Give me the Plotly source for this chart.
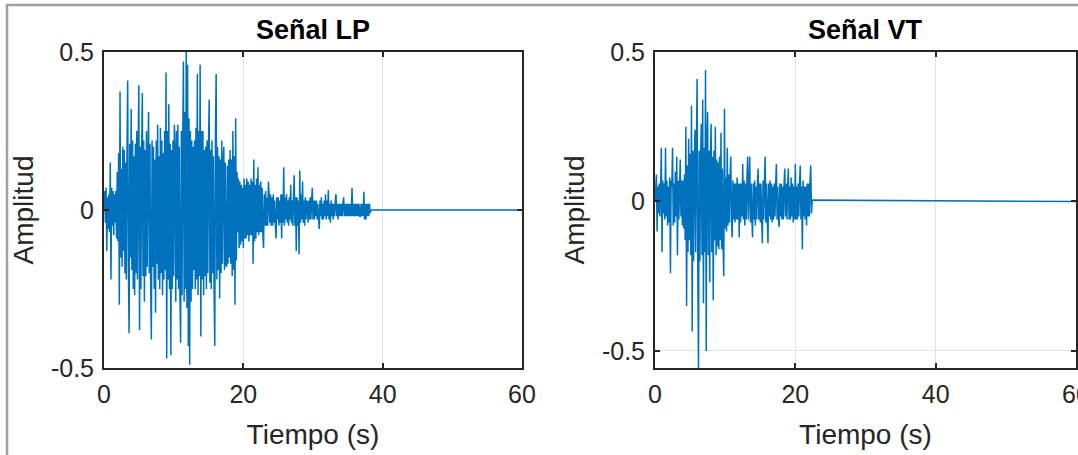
import numpy as np
import plotly.graph_objects as go

# ---------------- data ----------------
dt = 0.1                 # sampling interval of the hand-read traces (s)
record_length = 60.0     # length of each record (s); signal is 0 after the event

x_ticks = [0, 20, 40, 60]
x_tick_text = ["0", "20", "40", "60"]
y_ticks = [-0.5, 0, 0.5]
y_tick_text = ["-0.5", "0", "0.5"]

titles = ["Señal LP", "Señal VT"]
x_label = "Tiempo (s)"
y_label = "Amplitud"

# Señal LP, samples every dt from t = 0
lp_amp = [
    0.00, 0.06, -0.04, 0.07, -0.13, 0.04, -0.06, 0.05, -0.07, 0.15,
    -0.22, 0.07, -0.05, 0.06, -0.08, 0.05, -0.04, 0.06, -0.09, 0.12,
    -0.10, 0.18, -0.30, 0.375, -0.15, 0.13, -0.18, 0.20, -0.13, 0.19,
    -0.20, 0.15, -0.22, 0.19, 0.41, -0.18, -0.39, 0.21, -0.15, 0.32,
    -0.19, 0.22, -0.25, 0.17, -0.27, 0.21, -0.20, 0.25, -0.22, 0.18,
    0.395, -0.38, 0.20, -0.25, 0.17, 0.37, -0.21, 0.22, -0.29, 0.19,
    -0.21, 0.25, -0.18, 0.16, 0.31, -0.20, 0.21, -0.25, -0.41, 0.22,
    -0.18, 0.20, -0.25, 0.16, -0.325, 0.22, -0.17, 0.27, -0.22, 0.17,
    -0.25, 0.26, -0.20, 0.22, -0.27, 0.18, -0.22, 0.25, -0.19, 0.435,
    -0.47, 0.25, -0.22, 0.335, -0.25, 0.21, -0.46, 0.19, -0.25, 0.22,
    -0.21, 0.27, 0.18, -0.29, 0.25, -0.22, 0.27, -0.25, 0.20, -0.27,
    -0.42, 0.25, -0.27, 0.22, 0.47, -0.29, 0.31, -0.25, 0.50, -0.31,
    0.46, -0.43, 0.29, -0.49, 0.25, -0.29, 0.22, -0.25, 0.20, -0.19,
    0.22, -0.25, 0.26, -0.22, 0.43, -0.27, 0.25, -0.21, 0.46, -0.40,
    0.25, -0.22, 0.25, -0.27, 0.19, -0.21, 0.20, -0.25, 0.22, -0.20,
    0.21, 0.35, -0.23, 0.19, -0.25, 0.22, -0.20, 0.17, -0.25, -0.43,
    0.25, 0.43, -0.22, 0.20, -0.19, 0.17, -0.28, 0.16, -0.20, 0.22,
    -0.17, 0.16, 0.20, -0.19, 0.15, -0.17, -0.18, 0.14, -0.17, 0.16,
    -0.15, 0.19, -0.17, 0.16, -0.21, 0.25, -0.19, 0.17, -0.30, 0.29,
    -0.16, 0.12, -0.07, 0.10, -0.12, 0.09, -0.11, 0.08, -0.10, 0.07,
    -0.12, 0.10, -0.09, 0.08, -0.09, 0.10, -0.08, 0.09, -0.10, 0.08,
    -0.08, 0.10, -0.08, 0.09, -0.17, 0.16, -0.10, 0.08, -0.09, 0.10,
    -0.07, 0.135, -0.08, 0.08, -0.07, 0.09, -0.07, 0.07, -0.08, -0.12,
    0.05, -0.05, 0.06, -0.05, 0.04, -0.05, 0.09, 0.05, -0.04, 0.05,
    -0.05, 0.04, -0.05, 0.05, -0.04, 0.03, -0.05, -0.09, 0.04, -0.03,
    0.04, -0.05, 0.03, -0.04, 0.05, -0.09, 0.05, -0.04, 0.135, -0.05,
    0.04, -0.03, 0.05, -0.04, 0.03, -0.05, 0.04, -0.03, 0.08, -0.04,
    0.03, -0.05, 0.04, 0.11, -0.05, 0.04, -0.13, 0.04, -0.05, 0.03,
    -0.14, 0.125, -0.04, 0.05, -0.03, 0.09, -0.04, 0.03, -0.05, 0.04,
    -0.03, 0.03, 0.02, -0.04, 0.03, -0.03, 0.04, -0.03, 0.03, 0.07,
    -0.03, 0.03, -0.03, 0.03, -0.02, 0.03, -0.03, 0.02, -0.03, -0.06,
    0.03, -0.02, 0.04, -0.03, 0.02, -0.03, 0.03, -0.02, 0.05, -0.03,
    0.03, -0.02, 0.063, -0.03, 0.02, -0.04, 0.03, -0.02, 0.02, -0.03,
    0.02, -0.02, 0.03, 0.05, -0.02, 0.02, -0.03, 0.02, -0.02, 0.02,
    -0.02, 0.02, -0.02, 0.02, 0.04, -0.02, 0.02, -0.02, 0.02, -0.02,
    0.02, -0.02, 0.02, -0.02, 0.02, -0.02, 0.07, -0.02, 0.02, -0.02,
    0.02, -0.02, 0.02, -0.02, 0.02, -0.02, 0.02, -0.02, -0.02, 0.02,
    -0.02, 0.02, -0.02, 0.058, -0.03, 0.02, -0.03, 0.02, -0.02, 0.02,
    -0.02, 0.02, -0.01, 0.00,
]

# Señal VT, samples every dt from t = 0
vt_amp = [
    0.00, 0.04, 0.09, -0.10, 0.05, -0.04, 0.06, -0.05, 0.04, 0.18,
    -0.17, 0.07, -0.04, 0.06, -0.06, 0.18, -0.05, 0.07, -0.08, 0.05,
    -0.07, 0.08, -0.24, 0.07, 0.05, 0.18, -0.08, 0.06, -0.07, 0.10,
    -0.05, 0.15, -0.18, 0.07, -0.06, 0.05, 0.14, -0.05, 0.07, -0.08,
    0.07, -0.09, 0.09, -0.13, 0.25, -0.35, 0.12, -0.17, 0.21, -0.13,
    0.16, -0.18, 0.32, -0.435, 0.17, -0.20, 0.13, 0.24, -0.17, 0.18,
    0.41, -0.23, -0.57, 0.17, -0.20, 0.15, 0.26, -0.18, 0.34, -0.34,
    0.18, -0.17, 0.44, -0.50, 0.20, 0.30, -0.18, 0.17, -0.27, 0.15,
    0.26, -0.17, 0.15, -0.33, 0.17, -0.13, 0.25, -0.18, 0.14, -0.15,
    0.13, -0.16, 0.15, -0.13, 0.23, -0.16, 0.11, -0.13, -0.25, 0.31,
    -0.09, 0.08, -0.10, 0.18, -0.08, 0.09, -0.07, 0.08, 0.15, -0.06,
    -0.12, 0.07, -0.06, 0.06, -0.07, 0.06, -0.06, 0.08, -0.06, 0.06,
    -0.12, 0.06, -0.07, 0.06, -0.05, 0.125, -0.06, 0.07, -0.08, 0.06,
    -0.06, 0.07, 0.15, -0.06, 0.06, 0.15, -0.07, 0.06, -0.05, -0.12,
    0.06, -0.06, 0.07, -0.08, 0.05, -0.06, 0.06, 0.11, -0.06, 0.06,
    -0.07, 0.06, -0.06, -0.14, 0.07, -0.06, 0.06, 0.15, -0.07, 0.06,
    -0.06, -0.14, 0.06, -0.05, 0.07, -0.06, 0.06, -0.07, 0.05, -0.06,
    0.06, -0.05, 0.06, 0.125, -0.06, 0.05, -0.06, -0.085, 0.06, -0.05,
    0.06, -0.06, 0.05, -0.06, 0.06, 0.11, -0.05, 0.06, -0.06, 0.05,
    0.11, -0.06, 0.05, -0.06, 0.08, -0.05, 0.06, -0.07, 0.05, -0.06,
    0.125, -0.06, 0.05, -0.06, 0.06, -0.05, 0.06, 0.12, -0.06, 0.05,
    -0.16, 0.07, -0.05, 0.05, -0.06, 0.05, -0.08, 0.06, -0.05, 0.06,
    -0.05, 0.07, 0.12, -0.04, 0.00, 0.005,
]

y_ranges = [[-0.5, 0.5], [-0.557, 0.5]]

# ---------------- figure ----------------
W, H = 1078, 455
LINE_COLOR = "#0072BD"
AX_COLOR = "#262626"
GRID_COLOR = "#e3e3e3"
FONT = "Liberation Sans, Arial, Helvetica, sans-serif"


def series(amp):
    t = np.arange(len(amp)) * dt
    return np.append(t, record_length), np.append(np.array(amp, dtype=float), 0.0)


fig = go.Figure()
for i, amp in enumerate([lp_amp, vt_amp]):
    tx, ty = series(amp)
    sfx = "" if i == 0 else "2"
    fig.add_trace(go.Scatter(
        x=tx, y=ty, mode="lines",
        line=dict(color=LINE_COLOR, width=1.5, simplify=False),
        xaxis="x" + sfx, yaxis="y" + sfx, showlegend=False, hoverinfo="skip",
    ))

x_domains = [[104 / W, 522 / W], [655 / W, 1076 / W]]
y_domain = [1 - 368 / H, 1 - 52 / H]

common = dict(
    showline=True, linecolor=AX_COLOR, linewidth=2, mirror="allticks",
    ticks="inside", ticklen=5, tickwidth=1.5, tickcolor=AX_COLOR,
    showgrid=True, gridcolor=GRID_COLOR, gridwidth=1, zeroline=False,
    tickfont=dict(family=FONT, size=25, color=AX_COLOR), automargin=False,
    ticklabeloverflow="allow",
)

layout = dict(
    width=W, height=H,
    margin=dict(l=0, r=0, t=0, b=0, autoexpand=False),
    paper_bgcolor="white", plot_bgcolor="white",
    font=dict(family=FONT, color=AX_COLOR),
    annotations=[], shapes=[],
)

for i in range(2):
    sfx = "" if i == 0 else "2"
    layout["xaxis" + sfx] = dict(
        common, domain=x_domains[i], range=[0, record_length],
        tickvals=x_ticks, ticktext=x_tick_text, anchor="y" + sfx,
        title=dict(text=x_label, font=dict(family=FONT, size=28, color=AX_COLOR), standoff=17),
        ticklabelstandoff=3,
    )
    layout["yaxis" + sfx] = dict(
        common, domain=y_domain, range=y_ranges[i],
        tickvals=y_ticks, ticktext=y_tick_text, anchor="x" + sfx,
        title=dict(text=y_label, font=dict(family=FONT, size=28, color=AX_COLOR), standoff=9),
        ticklabelstandoff=3,
    )
    layout["annotations"].append(dict(
        text="<b>" + titles[i] + "</b>", xref="paper", yref="paper",
        x=sum(x_domains[i]) / 2, y=1 - 30 / H, xanchor="center", yanchor="middle",
        showarrow=False, font=dict(family=FONT, size=27, color="#000000"),
    ))

# grey frame of the original figure window
layout["shapes"].append(dict(
    type="path", xref="paper", yref="paper",
    path=f"M {7 / W} -0.05 L {7 / W} {1 - 5 / H} L 1.05 {1 - 5 / H}",
    line=dict(color="#a0a0a0", width=2.5),
))

fig.update_layout(**layout)
fig.write_html("out.html")
